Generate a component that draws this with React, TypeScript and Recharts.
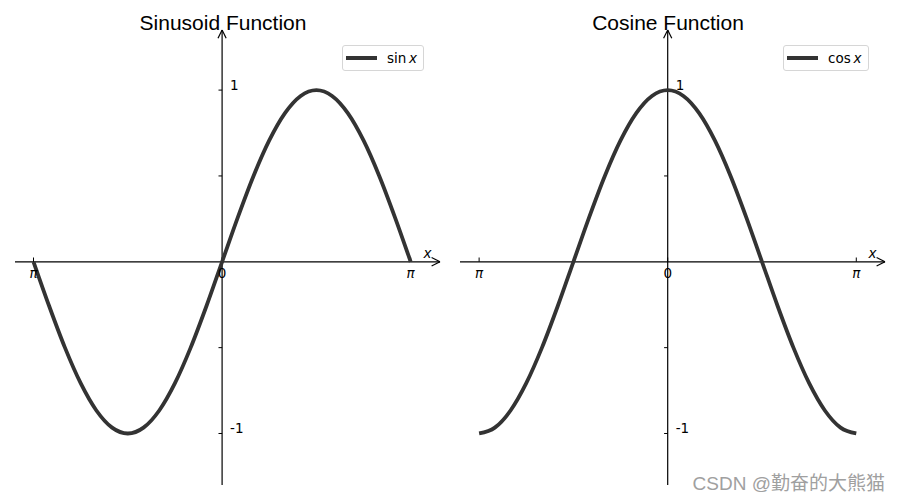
import React from 'react';
import { LineChart, Line, XAxis, YAxis, ReferenceLine, ReferenceDot } from 'recharts';

// values, step of pi/12
const xValues = [
  -3.1416, -2.8798, -2.618, -2.3562, -2.0944, -1.8326, -1.5708, -1.309, -1.0472, -0.7854, -0.5236, -0.2618,
  0, 0.2618, 0.5236, 0.7854, 1.0472, 1.309, 1.5708, 1.8326, 2.0944, 2.3562, 2.618, 2.8798, 3.1416
];
const sinValues = [
  0, -0.259, -0.5, -0.707, -0.866, -0.966, -1, -0.966, -0.866, -0.707, -0.5, -0.259,
  0, 0.259, 0.5, 0.707, 0.866, 0.966, 1, 0.966, 0.866, 0.707, 0.5, 0.259, 0
];
const cosValues = [
  -1, -0.966, -0.866, -0.707, -0.5, -0.259, 0, 0.259, 0.5, 0.707, 0.866, 0.966,
  1, 0.966, 0.866, 0.707, 0.5, 0.259, 0, -0.259, -0.5, -0.707, -0.866, -0.966, -1
];
const xTicks = [-3.1416, 0, 3.1416];
const xTickLabels = ['π', '0', 'π'];
const yTicks = [1, 0.5, -0.5, -1];
const yTickLabels = ['1', '', '', '-1'];

const Y_DOMAIN: [number, number] = [-1.3, 1.35];
const LINE_COLOR = '#333333';
const TICK_FONT = '"DejaVu Sans", sans-serif';

interface PanelProps {
  title: string;
  values: number[];
  fn: string;
  left: number;
  xDomain: [number, number];
  margin: { top: number; right: number; bottom: number; left: number };
  legendLeft: number;
  legendWidth: number;
}

const textShape = (label: string, dx: number, dy: number, anchor: string, italic = false) =>
  (props: any) => (
    <text
      x={props.cx + dx}
      y={props.cy + dy}
      textAnchor={anchor}
      fontSize={13.5}
      fontFamily={TICK_FONT}
      fontStyle={italic ? 'italic' : 'normal'}
      fill="#000"
    >
      {label}
    </text>
  );

const Panel = ({ title, values, fn, left, xDomain, margin, legendLeft, legendWidth }: PanelProps) => {
  const data = xValues.map((x, i) => ({ x, y: values[i] }));
  const [, xMax] = xDomain;
  const [, yMax] = Y_DOMAIN;
  const axisStroke = { stroke: '#000', strokeWidth: 1.2 };

  return (
    <div style={{ position: 'absolute', left, top: 0, width: 450, height: 500 }}>
      <div style={{
        position: 'absolute',
        top: 10,
        left: margin.left + 1,
        width: 450 - margin.left - margin.right - 11,
        textAlign: 'center',
        fontFamily: '"Liberation Sans", Arial, sans-serif',
        fontSize: 21,
        lineHeight: '26px',
        color: '#000',
        zIndex: 2
      }}>
        {title}
      </div>
      <div style={{
        position: 'absolute',
        top: 45,
        left: legendLeft,
        width: legendWidth,
        height: 26,
        boxSizing: 'border-box',
        border: '1px solid #d6d6d6',
        borderRadius: 3,
        background: '#fff',
        display: 'flex',
        alignItems: 'center',
        fontFamily: TICK_FONT,
        fontSize: 13.5,
        zIndex: 2
      }}>
        <span style={{ display: 'inline-block', width: 31, height: 3.8, background: LINE_COLOR, marginLeft: 3, marginRight: 10 }} />
        <span>{fn}&thinsp;<i>x</i></span>
      </div>
      <LineChart width={450} height={500} data={data} margin={margin}>
        <XAxis type="number" dataKey="x" domain={xDomain} hide allowDataOverflow />
        <YAxis type="number" domain={Y_DOMAIN} hide allowDataOverflow />
        <ReferenceLine y={0} {...axisStroke} />
        <ReferenceLine x={0} {...axisStroke} />
        {/* arrow heads */}
        <ReferenceLine segment={[{ x: xMax - 0.14, y: 0.025 }, { x: xMax, y: 0 }]} {...axisStroke} />
        <ReferenceLine segment={[{ x: xMax - 0.14, y: -0.025 }, { x: xMax, y: 0 }]} {...axisStroke} />
        <ReferenceLine segment={[{ x: -0.068, y: yMax - 0.048 }, { x: 0, y: yMax }]} {...axisStroke} />
        <ReferenceLine segment={[{ x: 0.068, y: yMax - 0.048 }, { x: 0, y: yMax }]} {...axisStroke} />
        {/* x ticks */}
        {xTicks.map((t, i) => (
          <ReferenceLine key={`xt-${i}`} segment={[{ x: t, y: 0 }, { x: t, y: 0.025 }]} stroke="#000" strokeWidth={1} />
        ))}
        {xTicks.map((t, i) => (
          <ReferenceDot key={`xl-${i}`} x={t} y={0} r={0} shape={textShape(xTickLabels[i], 0, 16, 'middle', i !== 1)} />
        ))}
        {/* y ticks */}
        {yTicks.map((t, i) => (
          <ReferenceLine key={`yt-${i}`} segment={[{ x: -0.06, y: t }, { x: 0, y: t }]} stroke="#000" strokeWidth={1} />
        ))}
        {yTicks.map((t, i) => (
          <ReferenceDot key={`yl-${i}`} x={0} y={t} r={0} shape={textShape(yTickLabels[i], 8, 0, 'start')} />
        ))}
        <ReferenceDot x={xMax - 0.21} y={0} r={0} shape={textShape('x', 0, -4, 'middle', true)} />
        <Line
          type="monotone"
          dataKey="y"
          stroke={LINE_COLOR}
          strokeWidth={3.8}
          dot={false}
          isAnimationActive={false}
        />
      </LineChart>
    </div>
  );
};

export default function App() {
  return (
    <div style={{ position: 'relative', width: 900, height: 500, margin: -8, background: '#fff', overflow: 'hidden' }}>
      <Panel
        title="Sinusoid Function"
        values={sinValues}
        fn="sin"
        left={0}
        xDomain={[-3.45, 3.63]}
        margin={{ top: 30, right: 10, bottom: 15, left: 15 }}
        legendLeft={342}
        legendWidth={82}
      />
      <Panel
        title="Cosine Function"
        values={cosValues}
        fn="cos"
        left={450}
        xDomain={[-3.46, 3.62]}
        margin={{ top: 30, right: 15, bottom: 15, left: 10 }}
        legendLeft={333}
        legendWidth={86}
      />
      <div style={{
        position: 'absolute',
        right: 15,
        top: 468,
        fontFamily: '"Liberation Sans", "Noto Sans CJK SC", sans-serif',
        fontSize: 19,
        color: '#a0a0a0',
        whiteSpace: 'nowrap'
      }}>
        CSDN @勤奋的大熊猫
      </div>
    </div>
  );
}
